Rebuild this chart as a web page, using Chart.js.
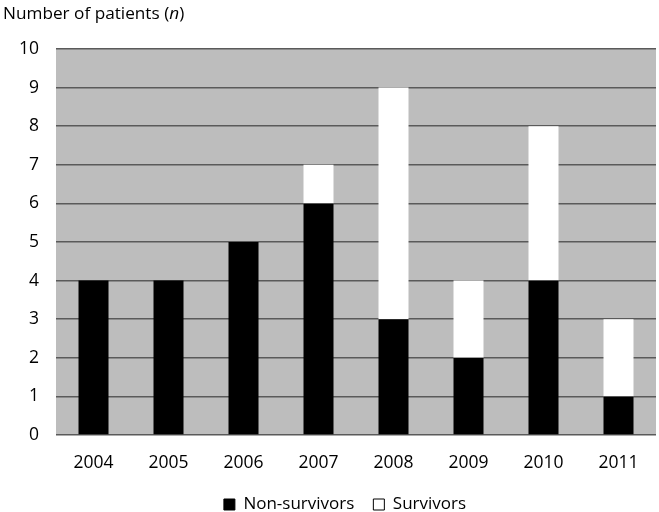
<!DOCTYPE html>
<html>
<head>
<meta charset="utf-8">
<script src="https://cdn.jsdelivr.net/npm/chart.js@4"></script>
<style>
  html, body { margin: 0; padding: 0; background: #fff; }
  #wrap { position: relative; width: 659px; height: 512px; }
  #title { position: absolute; left: 3px; top: 1px; font-family: "Open Sans", sans-serif; font-size: 17.2px; color: #000; }
</style>
</head>
<body>
<div id="wrap">
  <canvas id="patientChart" width="659" height="512"></canvas>
  <div id="title">Number of patients (<i>n</i>)</div>
</div>
<script>
// years on the x axis
const years = ['2004', '2005', '2006', '2007', '2008', '2009', '2010', '2011'];
// patients per year
const nonSurvivors = [4, 4, 5, 6, 3, 2, 4, 1];
const survivors = [0, 0, 0, 1, 6, 2, 4, 2];

// paints the grey plot area behind the bars
const plotBackground = {
    id: 'plotBackground',
    beforeDraw: function(chart) {
        const a = chart.chartArea;
        const ctx = chart.ctx;
        ctx.save();
        ctx.fillStyle = '#bdbdbd';
        ctx.fillRect(a.left, a.top, a.right - a.left, a.bottom - a.top);
        ctx.restore();
    }
};

// nudges the legend so it is centred under the plot rather than the canvas
const legendShift = {
    id: 'legendShift',
    afterLayout: function(chart) {
        chart.legend.left += 16;
        chart.legend.right += 16;
    }
};

const ctx = document.getElementById('patientChart').getContext('2d');
new Chart(ctx, {
    type: 'bar',
    data: {
        labels: years,
        datasets: [{
            label: 'Non-survivors',
            data: nonSurvivors,
            backgroundColor: '#000000',
            borderWidth: 0
        }, {
            label: 'Survivors',
            data: survivors,
            backgroundColor: '#ffffff',
            borderColor: '#000000',
            borderWidth: 0
        }]
    },
    options: {
        responsive: false,
        animation: false,
        layout: { padding: { left: 2, right: 3, top: 49, bottom: -11 } },
        datasets: { bar: { categoryPercentage: 1, barPercentage: 0.4 } },
        plugins: {
            tooltip: { enabled: false },
            legend: {
                position: 'bottom',
                labels: {
                    font: { family: 'Open Sans', size: 17 },
                    color: '#000',
                    boxWidth: 11,
                    boxHeight: 11,
                    padding: 19,
                    generateLabels: function(chart) {
                        return chart.data.datasets.map(function(ds, i) {
                            return {
                                text: ds.label,
                                fillStyle: ds.backgroundColor,
                                strokeStyle: '#000',
                                lineWidth: 1,
                                datasetIndex: i
                            };
                        });
                    }
                }
            }
        },
        scales: {
            x: {
                stacked: true,
                grid: { display: false, drawTicks: false },
                border: { display: false },
                ticks: {
                    color: '#000',
                    font: { family: 'Open Sans', size: 17.5 },
                    padding: 18
                },
                // keep the axis box short so the legend sits close under the years
                afterFit: function(scale) { scale.height = 42; }
            },
            y: {
                stacked: true,
                min: 0,
                max: 10,
                grid: { color: '#5a5a5a', lineWidth: 1.5, drawTicks: false },
                border: { display: false },
                ticks: {
                    stepSize: 1,
                    color: '#000',
                    font: { family: 'Open Sans', size: 17.5 },
                    padding: 17
                }
            }
        }
    },
    plugins: [plotBackground, legendShift]
});
</script>
</body>
</html>
